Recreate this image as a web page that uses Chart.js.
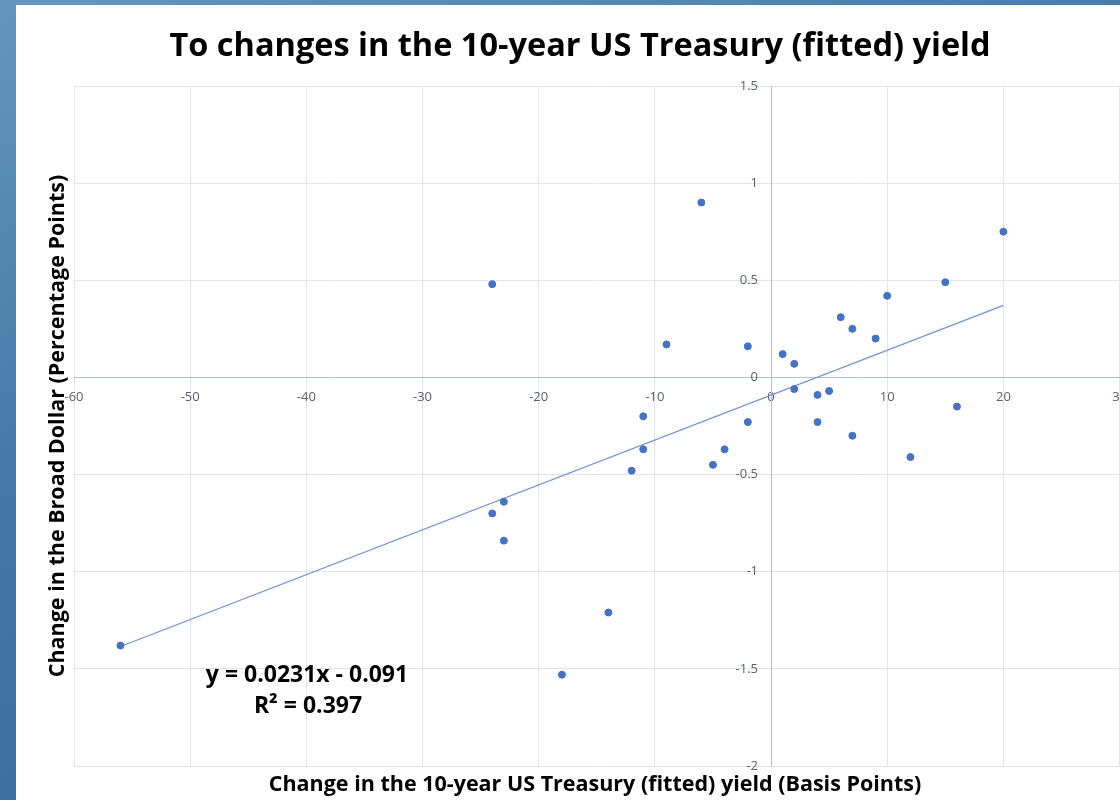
<!DOCTYPE html>
<html>
<head>
<meta charset="utf-8">
<script src="https://cdn.jsdelivr.net/npm/chart.js@4/dist/chart.umd.min.js"></script>
<style>
  html, body { margin: 0; padding: 0; overflow: hidden; }
  body {
    width: 1120px; height: 800px; position: relative;
    background: linear-gradient(160deg, #6396c0 0%, #4479a8 40%, #2f6496 100%);
  }
  #panel {
    position: absolute; left: 16px; top: 5px; width: 1123px; height: 795px;
    background: #ffffff;
  }
</style>
</head>
<body>
<div id="panel"><canvas id="scatter"></canvas></div>
<script>
// treasury yield change (bp) vs broad dollar change (pp)
const yieldChange = [-56, -24, -24, -23, -23, -18, -14, -12, -11, -11, -9, -6, -5, -4, -2, -2,
    1, 2, 2, 4, 4, 5, 6, 7, 7, 9, 10, 12, 15, 16, 20];
const dollarChange = [-1.38, 0.48, -0.70, -0.64, -0.84, -1.53, -1.21, -0.48, -0.20, -0.37, 0.17, 0.90, -0.45, -0.37, 0.16, -0.23,
    0.12, 0.07, -0.06, -0.09, -0.23, -0.07, 0.31, 0.25, -0.30, 0.20, 0.42, -0.41, 0.49, -0.15, 0.75];

// fitted line end points
const trendX = [-56, 20];
const trendY = [-1.385, 0.371];

const xTicks = [-60, -50, -40, -30, -20, -10, 0, 10, 20, 30];
const yTicks = [-2, -1.5, -1, -0.5, 0, 0.5, 1, 1.5];

const titleText = "To changes in the 10-year US Treasury (fitted) yield";
const xTitle = "Change in the 10-year US Treasury (fitted) yield (Basis Points)";
const yTitle = "Change in the Broad Dollar (Percentage Points)";
const eqLines = ["y = 0.0231x - 0.091", "R\u00b2 = 0.397"];

const FONT = "'Open Sans', 'Noto Sans', sans-serif";
const TICK_COLOR = "#5b6170";

const textPlugin = {
    id: "texts",
    afterDraw(chart) {
        const ctx = chart.ctx;
        const xs = chart.scales.x, ys = chart.scales.y;
        ctx.save();

        // y tick labels sit left of the centred y axis
        ctx.fillStyle = TICK_COLOR;
        ctx.font = "13px " + FONT;
        ctx.textAlign = "right";
        ctx.textBaseline = "middle";
        const axisX = xs.getPixelForValue(0);
        yTicks.forEach(v => {
            ctx.fillText(String(v), axisX - 13, ys.getPixelForValue(v));
        });

        ctx.fillStyle = "#000";
        ctx.textAlign = "center";

        ctx.font = "bold 32.5px " + FONT;
        ctx.fillText(titleText, 564, 42);

        ctx.font = "bold 21.5px " + FONT;
        ctx.fillText(xTitle, 579, 780);

        ctx.save();
        ctx.translate(42, 421);
        ctx.rotate(-Math.PI / 2);
        ctx.fillText(yTitle, 0, 0);
        ctx.restore();

        ctx.font = "bold 23px " + FONT;
        ctx.fillText(eqLines[0], 291, 670);
        ctx.fillText(eqLines[1], 292, 701);
        ctx.restore();
    }
};

const points = yieldChange.map((x, i) => ({x: x, y: dollarChange[i]}));
const trend = trendX.map((x, i) => ({x: x, y: trendY[i]}));

new Chart(document.getElementById("scatter"), {
    type: "scatter",
    data: {
        datasets: [
            {
                data: points,
                backgroundColor: "#4472c4",
                borderColor: "#4472c4",
                pointRadius: 3.5,
                pointHoverRadius: 3.5
            },
            {
                type: "line",
                data: trend,
                borderColor: "#6f93d3",
                borderWidth: 1.2,
                pointRadius: 0,
                fill: false
            }
        ]
    },
    options: {
        responsive: true,
        maintainAspectRatio: false,
        animation: false,
        layout: { padding: { left: 58, right: 2, top: 81, bottom: 34 } },
        plugins: {
            legend: { display: false },
            tooltip: { enabled: false }
        },
        scales: {
            x: {
                type: "linear",
                position: { y: 0 },
                min: -60, max: 30,
                afterBuildTicks: axis => { axis.ticks = xTicks.map(v => ({value: v})); },
                grid: { color: "#e1e4eb", drawTicks: false },
                border: { color: "#b9c0cd", width: 1 },
                ticks: { color: TICK_COLOR, font: { family: FONT, size: 13 }, padding: 12,
                    maxRotation: 0, callback: v => String(v) }
            },
            y: {
                type: "linear",
                position: { x: 0 },
                min: -2, max: 1.5,
                afterBuildTicks: axis => { axis.ticks = yTicks.map(v => ({value: v})); },
                grid: { color: "#e1e4eb", drawTicks: false },
                border: { color: "#b9c0cd", width: 1 },
                ticks: { display: false }
            }
        }
    },
    plugins: [textPlugin]
});
</script>
</body>
</html>
